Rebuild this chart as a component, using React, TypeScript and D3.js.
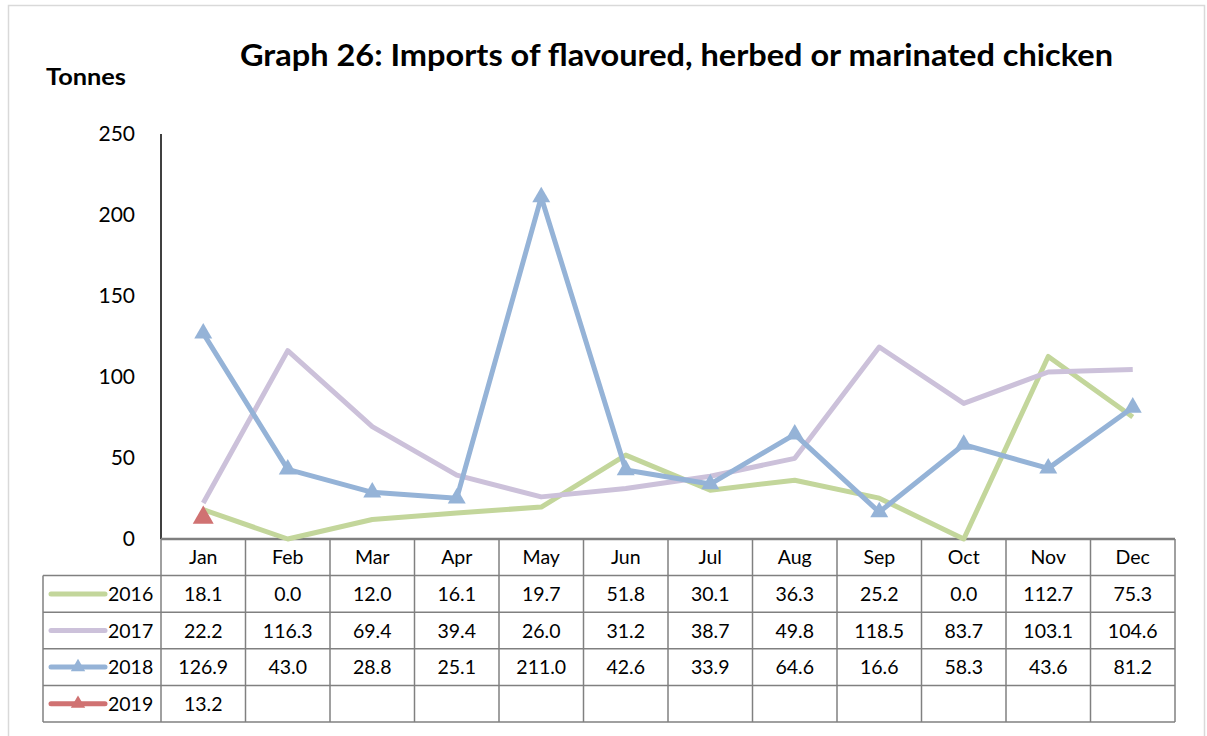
import React, { useEffect, useRef } from 'react';
import * as d3 from 'd3';

const months = ['Jan', 'Feb', 'Mar', 'Apr', 'May', 'Jun', 'Jul', 'Aug', 'Sep', 'Oct', 'Nov', 'Dec'];
const years = ['2016', '2017', '2018', '2019'];
const v2016 = [18.1, 0.0, 12.0, 16.1, 19.7, 51.8, 30.1, 36.3, 25.2, 0.0, 112.7, 75.3];
const v2017 = [22.2, 116.3, 69.4, 39.4, 26.0, 31.2, 38.7, 49.8, 118.5, 83.7, 103.1, 104.6];
const v2018 = [126.9, 43.0, 28.8, 25.1, 211.0, 42.6, 33.9, 64.6, 16.6, 58.3, 43.6, 81.2];
const v2019 = [13.2];
const yTicks = [0, 50, 100, 150, 200, 250];
const colors = ['#c3d69b', '#ccc1da', '#95b3d7', '#d07272'];
const markers = [false, false, true, true];

const App = () => {
  const ref = useRef<SVGSVGElement>(null);

  useEffect(() => {
    const svg = d3.select(ref.current);
    svg.selectAll('*').remove();
    const font = 'Lato, "Open Sans", sans-serif';
    const series = [v2016, v2017, v2018, v2019];

    const left = 161, right = 1175, top = 134, bottom = 539;
    const rowH = 36.6;
    const legendLeft = 43;

    const x = d3.scaleBand<string>().domain(months).range([left, right]);
    const y = d3.scaleLinear().domain([0, 250]).range([bottom, top]);

    // outer frame
    svg.append('rect').attr('x', 8.5).attr('y', 5.5).attr('width', 1196).attr('height', 740)
      .attr('fill', 'white').attr('stroke', '#d9d9d9').attr('stroke-width', 1.5);

    svg.append('text').attr('x', 240).attr('y', 66)
      .attr('font-family', font).attr('font-weight', 'bold').attr('font-size', 30)
      .attr('textLength', 873).attr('lengthAdjust', 'spacingAndGlyphs')
      .text('Graph 26: Imports of flavoured, herbed or marinated chicken');

    svg.append('text').attr('x', 46).attr('y', 85)
      .attr('font-family', font).attr('font-weight', 'bold').attr('font-size', 22)
      .attr('textLength', 80).attr('lengthAdjust', 'spacingAndGlyphs')
      .text('Tonnes');

    // y axis labels
    svg.append('g').selectAll('text').data(yTicks).enter().append('text')
      .attr('x', 135).attr('y', d => y(d) + 7).attr('text-anchor', 'end')
      .attr('font-family', font).attr('font-size', 21).text(d => d);

    svg.append('line').attr('x1', left).attr('x2', left).attr('y1', top).attr('y2', bottom)
      .attr('stroke', '#000').attr('stroke-width', 1.5);

    // table
    const tbl = svg.append('g');
    const grid = '#808080';
    const tableBottom = bottom + rowH * 5;
    months.forEach((m) => {
      const cx = x(m)!;
      tbl.append('line').attr('x1', cx).attr('x2', cx).attr('y1', bottom).attr('y2', tableBottom)
        .attr('stroke', grid).attr('stroke-width', 1.5);
      tbl.append('text').attr('x', cx + x.bandwidth() / 2).attr('y', bottom + rowH / 2 + 7)
        .attr('text-anchor', 'middle').attr('font-family', font).attr('font-size', 19.5).text(m);
    });
    tbl.append('line').attr('x1', right).attr('x2', right).attr('y1', bottom).attr('y2', tableBottom)
      .attr('stroke', grid).attr('stroke-width', 1.5);
    tbl.append('line').attr('x1', legendLeft).attr('x2', legendLeft).attr('y1', bottom + rowH).attr('y2', tableBottom)
      .attr('stroke', grid).attr('stroke-width', 1.5);
    for (let r = 1; r <= 5; r++) {
      tbl.append('line').attr('x1', legendLeft).attr('x2', right)
        .attr('y1', bottom + rowH * r).attr('y2', bottom + rowH * r)
        .attr('stroke', grid).attr('stroke-width', 1.5);
    }

    years.forEach((yr, si) => {
      const rowY = bottom + rowH * (si + 1) + rowH / 2;
      tbl.append('line').attr('x1', 51).attr('x2', 105).attr('y1', rowY).attr('y2', rowY)
        .attr('stroke', colors[si]).attr('stroke-width', 5).attr('stroke-linecap', 'round');
      if (markers[si]) {
        tbl.append('path').attr('d', d3.symbol(d3.symbolTriangle, 90)()!)
          .attr('transform', `translate(78,${rowY})`).attr('fill', colors[si]);
      }
      tbl.append('text').attr('x', 108).attr('y', rowY + 7).attr('font-family', font)
        .attr('font-size', 19.5).text(yr);
      series[si].forEach((v, i) => {
        tbl.append('text').attr('x', x(months[i])! + x.bandwidth() / 2).attr('y', rowY + 7)
          .attr('text-anchor', 'middle').attr('font-family', font).attr('font-size', 19.5)
          .text(v.toFixed(1));
      });
    });

    // x axis line
    svg.append('line').attr('x1', left).attr('x2', right).attr('y1', bottom).attr('y2', bottom)
      .attr('stroke', '#7f7f7f').attr('stroke-width', 2.5);

    // lines
    const line = d3.line<number>()
      .x((d, i) => x(months[i])! + x.bandwidth() / 2)
      .y(d => y(d));
    series.forEach((vals, si) => {
      svg.append('path').datum(vals).attr('d', line).attr('fill', 'none')
        .attr('stroke', colors[si]).attr('stroke-width', 5).attr('stroke-linejoin', 'round');
      if (markers[si]) {
        svg.append('g').selectAll('path').data(vals).enter().append('path')
          .attr('d', d3.symbol(d3.symbolTriangle, si === 3 ? 190 : 140)()!)
          .attr('transform', (d, i) => `translate(${x(months[i])! + x.bandwidth() / 2},${y(d)})`)
          .attr('fill', colors[si]);
      }
    });
  }, []);

  return (
    <svg ref={ref} width={1207} height={736}
      style={{ position: 'absolute', left: 0, top: 0, display: 'block' }} />
  );
};

export default App;
